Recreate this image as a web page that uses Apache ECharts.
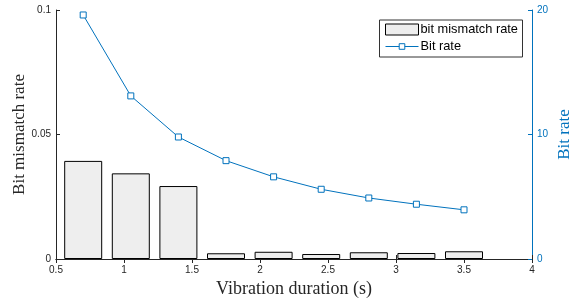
<!DOCTYPE html>
<html>
<head>
<meta charset="utf-8">
<script src="https://cdn.jsdelivr.net/npm/echarts@6/dist/echarts.min.js"></script>
<style>html,body{margin:0;padding:0;background:#fff}#c{width:585px;height:300px}</style>
</head>
<body>
<div id="c"></div>
<script>
const durations = [0.7, 1.05, 1.4, 1.75, 2.1, 2.45, 2.8, 3.15, 3.5];
const mismatchRate = [0.0394, 0.0344, 0.0293, 0.0023, 0.0029, 0.0020, 0.0027, 0.0024, 0.0031];
const bitRate = [19.6, 13.1, 9.8, 7.9, 6.6, 5.6, 4.9, 4.4, 3.95];
const xTicks = [0.5, 4, 0.5];
const leftTicks = [0, 0.1, 0.05];
const rightTicks = [0, 20, 10];

const dark = '#262626';
const blue = '#0072BD';
const sans = 'Liberation Sans, Arial, sans-serif';
const serif = 'Liberation Serif, Times New Roman, serif';
const chart = echarts.init(document.getElementById('c'));
chart.setOption({
  animation: false,
  grid: {left: 56, right: 53, top: 10, bottom: 41, show: false, containLabel: false, outerBoundsMode: 'none'},
  graphic: [{
    type: 'rect', z: 1, left: 379, top: 19.5,
    shape: {width: 143, height: 37},
    style: {fill: '#fff', stroke: '#333', lineWidth: 1}
  }],
  legend: [{
    left: 385, top: 23, z: 10, padding: 0, itemGap: 0,
    itemWidth: 33, itemHeight: 11,
    textStyle: {fontFamily: sans, fontSize: 12.8, color: '#000', padding: [0, 0, 0, -3]},
    data: [{name: 'bit mismatch rate', icon: 'rect', itemStyle: {color: '#EEEEEE', borderColor: '#000', borderWidth: 1}}]
  }, {
    left: 385, top: 40, z: 10, padding: 0, itemGap: 0,
    itemWidth: 33, itemHeight: 7,
    textStyle: {fontFamily: sans, fontSize: 12.8, color: '#000', padding: [0, 0, 0, -3]},
    data: [{name: 'Bit rate', itemStyle: {color: '#fff', borderColor: blue, borderWidth: 1}, lineStyle: {width: 1, color: blue}}]
  }],
  xAxis: [{
    type: 'value', min: xTicks[0], max: xTicks[1], interval: xTicks[2], position: 'bottom',
    axisLine: {lineStyle: {color: dark, width: 1}},
    axisTick: {inside: true, length: 4, lineStyle: {color: dark}},
    axisLabel: {fontSize: 10, color: dark, margin: 6, fontFamily: sans},
    splitLine: {show: false},
    name: 'Vibration duration (s)', nameLocation: 'middle', nameGap: 21, nameMoveOverlap: false,
    nameTextStyle: {fontFamily: serif, fontSize: 18, color: dark}
  }, {
    type: 'value', min: xTicks[0], max: xTicks[1], interval: xTicks[2], position: 'top',
    axisLine: {lineStyle: {color: dark, width: 1}},
    axisTick: {inside: true, length: 4, lineStyle: {color: dark}},
    axisLabel: {show: false}, splitLine: {show: false}
  }],
  yAxis: [{
    type: 'value', min: leftTicks[0], max: leftTicks[1], interval: leftTicks[2], position: 'left',
    axisLine: {show: true, lineStyle: {color: dark, width: 1}},
    axisTick: {show: true, inside: true, length: 4, lineStyle: {color: dark}},
    axisLabel: {fontSize: 10, color: dark, margin: 5, fontFamily: sans},
    splitLine: {show: false},
    name: 'Bit mismatch rate', nameLocation: 'middle', nameGap: 28, nameRotate: 90, nameMoveOverlap: false,
    nameTextStyle: {fontFamily: serif, fontSize: 17, color: dark}
  }, {
    type: 'value', min: rightTicks[0], max: rightTicks[1], interval: rightTicks[2], position: 'right',
    axisLine: {show: true, lineStyle: {color: blue, width: 1}},
    axisTick: {show: true, inside: true, length: 4, lineStyle: {color: blue}},
    axisLabel: {fontSize: 10, color: blue, margin: 5, fontFamily: sans},
    splitLine: {show: false},
    name: 'Bit rate', nameLocation: 'middle', nameGap: 24, nameRotate: 90, nameMoveOverlap: false,
    nameTextStyle: {fontFamily: serif, fontSize: 17, color: blue}
  }],
  series: [{
    name: 'bit mismatch rate', type: 'bar', xAxisIndex: 0, yAxisIndex: 0,
    data: durations.map((d, i) => [d, mismatchRate[i]]),
    barWidth: 38,
    itemStyle: {color: '#EEEEEE', borderColor: '#000', borderWidth: 1}
  }, {
    name: 'Bit rate', type: 'line', xAxisIndex: 0, yAxisIndex: 1,
    data: durations.map((d, i) => [d, bitRate[i]]),
    symbol: 'rect', symbolSize: 6, showSymbol: true,
    lineStyle: {color: blue, width: 1},
    itemStyle: {color: '#fff', borderColor: blue, borderWidth: 1}
  }]
});
</script>
</body>
</html>
